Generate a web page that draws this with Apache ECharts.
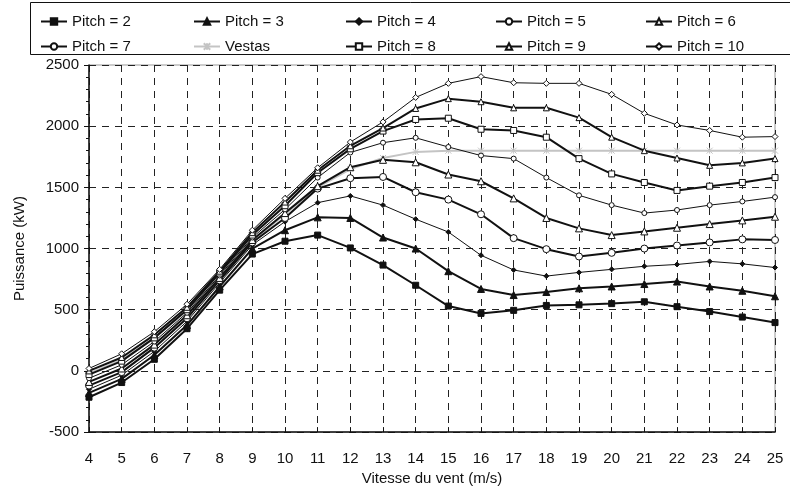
<!DOCTYPE html>
<html>
<head>
<meta charset="utf-8">
<script src="https://cdn.jsdelivr.net/npm/echarts@6/dist/echarts.min.js"></script>
<style>
  html, body { margin: 0; padding: 0; background: #fff; }
  #chart { width: 790px; height: 491px; }
</style>
</head>
<body>
<div id="chart"></div>
<script>
// vitesse du vent (m/s)
const vitesse = [4, 5, 6, 7, 8, 9, 10, 11, 12, 13, 14, 15, 16, 17, 18, 19, 20, 21, 22, 23, 24, 25];

// puissance (kW)
const pitch2  = [-215, -95, 95, 345, 660, 955, 1060, 1110, 1005, 865, 700, 530, 470, 495, 535, 540, 550, 565, 525, 485, 440, 395];
const pitch3  = [-180, -65, 130, 375, 690, 1000, 1150, 1255, 1250, 1090, 1000, 815, 670, 620, 645, 675, 690, 710, 730, 690, 655, 610];
const pitch4  = [-150, -35, 160, 405, 720, 1030, 1220, 1375, 1430, 1355, 1240, 1135, 945, 825, 775, 805, 830, 855, 870, 895, 875, 845];
const pitch5  = [-120, -10, 190, 430, 740, 1050, 1250, 1490, 1575, 1585, 1460, 1400, 1280, 1085, 995, 935, 965, 1000, 1025, 1050, 1075, 1070];
const pitch6  = [-90, 20, 215, 455, 760, 1070, 1290, 1510, 1665, 1725, 1705, 1605, 1550, 1410, 1250, 1165, 1110, 1140, 1170, 1200, 1230, 1260];
const pitch7  = [-60, 50, 240, 475, 780, 1090, 1320, 1580, 1785, 1865, 1905, 1830, 1760, 1735, 1580, 1435, 1355, 1290, 1315, 1355, 1385, 1420];
const vestas  = [-20, 90, 270, 490, 760, 1060, 1280, 1500, 1650, 1740, 1790, 1800, 1800, 1800, 1800, 1800, 1800, 1800, 1800, 1800, 1800, 1800];
const pitch8  = [-30, 80, 270, 500, 800, 1110, 1350, 1620, 1815, 1960, 2055, 2065, 1975, 1965, 1910, 1735, 1610, 1540, 1475, 1510, 1540, 1580];
const pitch9  = [0, 110, 295, 520, 815, 1130, 1380, 1640, 1840, 1985, 2145, 2225, 2200, 2150, 2150, 2070, 1910, 1800, 1740, 1680, 1700, 1735];
const pitch10 = [20, 140, 320, 545, 830, 1150, 1410, 1660, 1870, 2035, 2235, 2350, 2405, 2355, 2350, 2350, 2260, 2105, 2010, 1965, 1910, 1915];

// ordre de la légende (2 lignes de 5)
const noms = ['Pitch = 2', 'Pitch = 3', 'Pitch = 4', 'Pitch = 5', 'Pitch = 6',
              'Pitch = 7', 'Vestas', 'Pitch = 8', 'Pitch = 9', 'Pitch = 10'];
const valeurs = [pitch2, pitch3, pitch4, pitch5, pitch6, pitch7, vestas, pitch8, pitch9, pitch10];

// style de chaque courbe : symbole, taille, plein ou vide, épaisseur
const styles = [
  { symbol: 'rect',     size: 6, filled: true,  width: 2 },
  { symbol: 'triangle', size: 7, filled: true,  width: 2 },
  { symbol: 'diamond',  size: 5, filled: true,  width: 1 },
  { symbol: 'circle',   size: 7, filled: false, width: 2 },
  { symbol: 'triangle', size: 7, filled: false, width: 2 },
  { symbol: 'circle',   size: 5, filled: false, width: 1 },
  { symbol: 'path://M0,0L10,10M10,0L0,10M5,0L5,10', size: 6, filled: false, width: 2, gray: true },
  { symbol: 'rect',     size: 6, filled: false, width: 2 },
  { symbol: 'triangle', size: 6, filled: false, width: 2 },
  { symbol: 'diamond',  size: 6, filled: false, width: 1 }
];

const chart = echarts.init(document.getElementById('chart'));
const police = 'Liberation Sans, Arial, sans-serif';

const series = noms.map((nom, k) => {
  const s = styles[k];
  const couleur = s.gray ? '#c4c4c4' : '#111';
  return {
    name: nom,
    type: 'line',
    data: vitesse.map((v, i) => [v, valeurs[k][i]]),
    symbol: s.symbol,
    symbolSize: s.size,
    showAllSymbol: true,
    z: s.gray ? 1 : 2,
    lineStyle: { color: couleur, width: s.width },
    itemStyle: {
      color: s.filled ? couleur : '#fff',
      borderColor: couleur,
      borderWidth: 1
    },
    emphasis: { disabled: true }
  };
});

// une légende par élément, placées en grille
const colX = [35, 188, 340, 490, 640];
const rowY = [9, 34];
const legends = noms.map((nom, k) => ({
  data: [nom],
  left: colX[k % 5],
  top: rowY[Math.floor(k / 5)],
  itemWidth: 26,
  itemHeight: 8,
  itemGap: 4,
  textStyle: { fontFamily: police, fontSize: 15, color: '#111' },
  selectedMode: false
}));

const option = {
  animation: false,
  backgroundColor: '#fff',
  legend: legends,
  graphic: [{
    type: 'rect',
    shape: { x: 30.5, y: 2.5, width: 770, height: 52 },
    style: { fill: 'none', stroke: '#111', lineWidth: 1 },
    silent: true
  }],
  grid: {
    left: 89, right: 15, top: 65, bottom: 46,
    show: true, borderColor: '#999', borderWidth: 1
  },
  xAxis: {
    type: 'value',
    min: 4, max: 25, interval: 1,
    name: 'Vitesse du vent (m/s)',
    nameLocation: 'middle',
    nameGap: 31,
    nameTextStyle: { fontFamily: police, fontSize: 15, color: '#111' },
    axisLine: { onZero: false, lineStyle: { color: '#111', width: 1.5 } },
    axisTick: { inside: true, length: 5, lineStyle: { color: '#111' } },
    axisLabel: { fontFamily: police, fontSize: 15, color: '#111', margin: 19 },
    splitLine: { show: true, lineStyle: { color: '#222', type: [7, 6], width: 1 } }
  },
  yAxis: {
    type: 'value',
    min: -500, max: 2500, interval: 500,
    name: 'Puissance (kW)',
    nameLocation: 'middle',
    nameGap: 62,
    nameTextStyle: { fontFamily: police, fontSize: 15, color: '#111' },
    axisLine: { show: true, lineStyle: { color: '#111', width: 1.5 } },
    axisTick: { show: true, length: 5, lineStyle: { color: '#111' } },
    minorTick: { show: true, splitNumber: 5, length: 3, lineStyle: { color: '#111' } },
    axisLabel: {
      fontFamily: police, fontSize: 15, color: '#111', margin: 10,
      formatter: v => String(v)
    },
    splitLine: { show: true, lineStyle: { color: '#222', type: [7, 6], width: 1 } }
  },
  series: series
};

chart.setOption(option);
</script>
</body>
</html>
